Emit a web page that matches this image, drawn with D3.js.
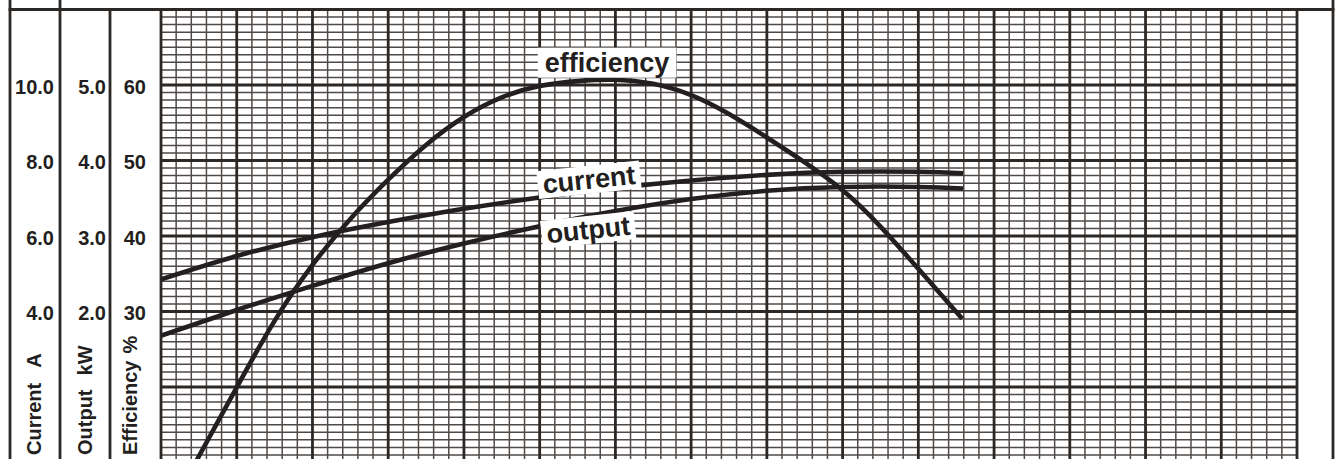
<!DOCTYPE html>
<html><head><meta charset="utf-8">
<script src="https://cdn.jsdelivr.net/npm/d3@7"></script>
<style>
html,body{margin:0;padding:0;background:#fff;}
svg{display:block;}
text{font-family:"Liberation Sans",Arial,sans-serif;font-weight:bold;fill:#231f20;}
</style></head>
<body><svg id="chart" width="1339" height="459"></svg>
<script>
// ---- data (x in major-grid units) ----
const currentX   = [0, 1, 2, 3, 4, 5, 6, 7, 8, 9, 10, 10.59];
const currentA   = [4.85, 5.47, 5.97, 6.37, 6.72, 7.02, 7.27, 7.47, 7.62, 7.70, 7.70, 7.66];
const outputX    = [0, 1, 2, 3, 4, 5, 6, 7, 8, 9, 10, 10.59];
const outputKW   = [1.68, 2.02, 2.34, 2.64, 2.90, 3.13, 3.33, 3.49, 3.60, 3.65, 3.65, 3.63];
const effX       = [0.40, 0.48, 1.0, 1.5, 2.0, 2.5, 3.0, 3.5, 4.0, 4.5, 5.0, 5.5, 6.0, 6.5, 7.0, 7.5, 8.0, 8.5, 9.0, 9.5, 10.0, 10.58];
const effPct     = [9.0, 10.46, 19.96, 28.76, 36.16, 42.26, 47.46, 52.06, 55.76, 58.36, 59.86, 60.51, 60.70, 60.15, 58.65, 56.15, 53.05, 49.75, 46.05, 41.25, 35.65, 29.05];
const currentTicks = [4, 6, 8, 10];
const outputTicks  = [2, 3, 4, 5];
const effTicks     = [30, 40, 50, 60];
const axisTitles   = ["Current", "A", "Output", "kW", "Efficiency", "%"];
const curveLabels  = ["efficiency", "current", "output"];

// ---- layout ----
const svg = d3.select("#chart");
const W = 1339, H = 459;
const gx0 = 161, gx1 = 1297, gTop = 9.5, unitY = 75.5;
const ink = "#231f20";

const x = d3.scaleLinear().domain([0, 15]).range([gx0, gx1]);
const yEff = d3.scaleLinear().domain([10, 70]).range([gTop + 6 * unitY, gTop]);
const yCur = d3.scaleLinear().domain([0, 12]).range([gTop + 6 * unitY, gTop]);
const yOut = d3.scaleLinear().domain([0, 6]).range([gTop + 6 * unitY, gTop]);

svg.append("rect").attr("width", W).attr("height", H).attr("fill", "#fff");

// ---- grid ----
const grid = svg.append("g");
const yBottom = H + 5;
const minorCol = "#4f4a47", majorCol = "#2c2825";
grid.selectAll("line.vmin").data(d3.range(0, 75).filter(i => i % 5 !== 0).map(i => i / 5))
  .join("line").attr("x1", d => x(d)).attr("x2", d => x(d))
  .attr("y1", gTop).attr("y2", yBottom).attr("stroke", minorCol).attr("stroke-width", 1.5);
const hmin = d3.range(0, 70).filter(i => i % 10 !== 0).map(i => 70 - i);
grid.selectAll("line.hmin").data(hmin)
  .join("line").attr("x1", gx0).attr("x2", gx1)
  .attr("y1", d => yEff(d)).attr("y2", d => yEff(d))
  .attr("stroke", minorCol).attr("stroke-width", 1.5);
grid.selectAll("line.vmaj").data(d3.range(0, 16))
  .join("line").attr("x1", d => x(d)).attr("x2", d => x(d))
  .attr("y1", gTop).attr("y2", yBottom).attr("stroke", majorCol).attr("stroke-width", 2.8);
grid.selectAll("line.hmaj").data([70, 60, 50, 40, 30, 20, 10, 0])
  .join("line").attr("x1", gx0).attr("x2", gx1)
  .attr("y1", d => yEff(d)).attr("y2", d => yEff(d))
  .attr("stroke", majorCol).attr("stroke-width", 2.8);

// ---- frame ----
const frame = svg.append("g").attr("stroke", majorCol).attr("stroke-width", 2.8);
frame.append("line").attr("x1", 10).attr("x2", 10).attr("y1", 0).attr("y2", H);
frame.append("line").attr("x1", 60).attr("x2", 60).attr("y1", 0).attr("y2", H);
frame.append("line").attr("x1", 110).attr("x2", 110).attr("y1", gTop).attr("y2", H);
frame.append("line").attr("x1", 1333).attr("x2", 1333).attr("y1", 0).attr("y2", H);
frame.append("line").attr("x1", 8.6).attr("x2", 1334.4).attr("y1", gTop).attr("y2", gTop);

// ---- axes ----
function tickAxis(scale, ticks, xpos, fmt) {
  const g = svg.append("g").attr("transform", `translate(${xpos},0)`)
    .call(d3.axisLeft(scale).tickValues(ticks).tickSize(0).tickPadding(0).tickFormat(d3.format(fmt)));
  g.select(".domain").remove();
  g.selectAll("text").attr("font-size", 20).attr("font-family", "Liberation Sans, Arial, sans-serif")
    .attr("font-weight", "bold").attr("fill", ink).attr("dy", "0.42em");
}
tickAxis(yCur, currentTicks, 54, ".1f");
tickAxis(yOut, outputTicks, 106, ".1f");
tickAxis(yEff, effTicks, 146, "d");

function axisTitle(main, unit, bx, gap) {
  const t = svg.append("text").attr("transform", `translate(${bx},455) rotate(-90)`)
    .attr("font-size", 20);
  t.append("tspan").text(main);
  t.append("tspan").attr("dx", gap).text(unit);
}
axisTitle(axisTitles[0], axisTitles[1], 40.5, 15);
axisTitle(axisTitles[2], axisTitles[3], 91.5, 14);
axisTitle(axisTitles[4], axisTitles[5], 136.5, 7);

// ---- curves ----
svg.append("clipPath").attr("id", "plotclip")
  .append("rect").attr("x", gx0).attr("y", gTop).attr("width", gx1 - gx0).attr("height", H);
const curves = svg.append("g").attr("clip-path", "url(#plotclip)")
  .attr("fill", "none").attr("stroke", ink).attr("stroke-width", 4.6).attr("stroke-linecap", "butt");
const line = (ys) => d3.line().x(d => x(d[0])).y(d => ys(d[1])).curve(d3.curveNatural);
curves.append("path").attr("d", line(yCur)(d3.zip(currentX, currentA)));
curves.append("path").attr("d", line(yOut)(d3.zip(outputX, outputKW)));
curves.append("path").attr("d", line(yEff)(d3.zip(effX, effPct)));

// ---- curve labels ----
function curveLabel(txt, cx, cy, angle, padX, padY) {
  const g = svg.append("g").attr("transform", `translate(${cx},${cy}) rotate(${angle})`);
  const r = g.append("rect").attr("fill", "#fff");
  const t = g.append("text").attr("text-anchor", "middle").attr("font-size", 27)
    .attr("dy", "0.36em").text(txt);
  const b = t.node().getBBox();
  r.attr("x", b.x - padX).attr("y", b.y - padY + 2).attr("width", b.width + 2 * padX).attr("height", b.height + 2 * padY - 4);
}
curveLabel(curveLabels[0], x(5.89), yEff(63.05), 0, 7, 2);
curveLabel(curveLabels[1], x(5.65), yCur(7.51), -6, 5, 1);
curveLabel(curveLabels[2], x(5.64), yOut(3.09), -6, 5, 1);
</script>
</body></html>
